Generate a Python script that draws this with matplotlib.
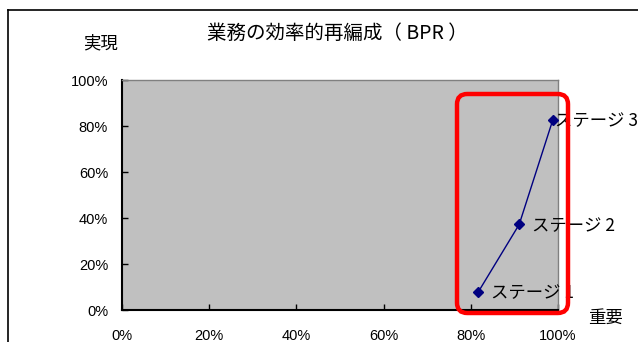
import numpy as np
import matplotlib
matplotlib.use("Agg")
import matplotlib.pyplot as plt
from matplotlib.patches import FancyBboxPatch
from matplotlib.lines import Line2D
from matplotlib.ticker import PercentFormatter

plt.rcParams['font.family'] = ['Noto Sans CJK JP', 'DejaVu Sans']

# stage positions: importance (x) vs. realisation (y)
stages = ["ステージ 1", "ステージ 2", "ステージ 3"]
importance = [0.817, 0.911, 0.988]
realized = [0.078, 0.372, 0.826]
ticks = [0, 0.2, 0.4, 0.6, 0.8, 1.0]

W, H = 638, 342
fig = plt.figure(figsize=(W / 100, H / 100), dpi=100)

# outer chart frame
fig.add_artist(Line2D([8 / W, 1], [1 - 10 / H, 1 - 10 / H], color="black", lw=1.2))
fig.add_artist(Line2D([8 / W, 8 / W], [0, 1 - 10 / H], color="black", lw=1.2))

ax = fig.add_axes([122 / W, 1 - 310 / H, 436 / W, 230 / H])
ax.set_facecolor("#c0c0c0")
ax.plot(importance, realized, color="#000080", lw=1, marker="D", markersize=5,
        markerfacecolor="#000080", markeredgecolor="#000080", clip_on=False, zorder=3)

offsets = [13, 13, 2]
for name, x, y, dx in zip(stages, importance, realized, offsets):
    ax.annotate(name, (x, y), xytext=(dx * 0.72, -1), textcoords="offset points",
                ha="left", va="center", fontsize=12.5, annotation_clip=False)

ax.set_xlim(0, 1)
ax.set_ylim(0, 1)
ax.set_xticks(ticks)
ax.set_yticks(ticks)
ax.xaxis.set_major_formatter(PercentFormatter(1.0, decimals=0))
ax.yaxis.set_major_formatter(PercentFormatter(1.0, decimals=0))
ax.tick_params(direction="in", length=4, width=1, labelsize=10.5)
ax.tick_params(axis="x", pad=14)
ax.tick_params(axis="y", pad=10)
for lab in ax.get_xticklabels() + ax.get_yticklabels():
    lab.set_family(["Liberation Sans"])
for side in ["left", "bottom"]:
    ax.spines[side].set_linewidth(1.5)
    ax.spines[side].set_color("black")
for side in ["top", "right"]:
    ax.spines[side].set_linewidth(1)
    ax.spines[side].set_color("#808080")

fig.text(337 / W, 1 - 33 / H, "業務の効率的再編成（ BPR ）", ha="center", va="center", fontsize=14)
fig.text(100 / W, 1 - 43 / H, "実現", ha="center", va="center", fontsize=12.5)
fig.text(605 / W, 1 - 318 / H, "重要", ha="center", va="center", fontsize=12.5)

# highlight box around the stages
x0, x1 = 457 / W, 568 / W
y0, y1 = 1 - 313 / H, 1 - 94 / H
box = FancyBboxPatch((x0, y0), x1 - x0, y1 - y0,
                     boxstyle="round,pad=0,rounding_size=0.016",
                     mutation_aspect=W / H, transform=fig.transFigure,
                     fill=False, edgecolor="#ff0000", lw=3.2, zorder=5)
fig.add_artist(box)

fig.savefig("out.png", dpi=100, facecolor="white")
